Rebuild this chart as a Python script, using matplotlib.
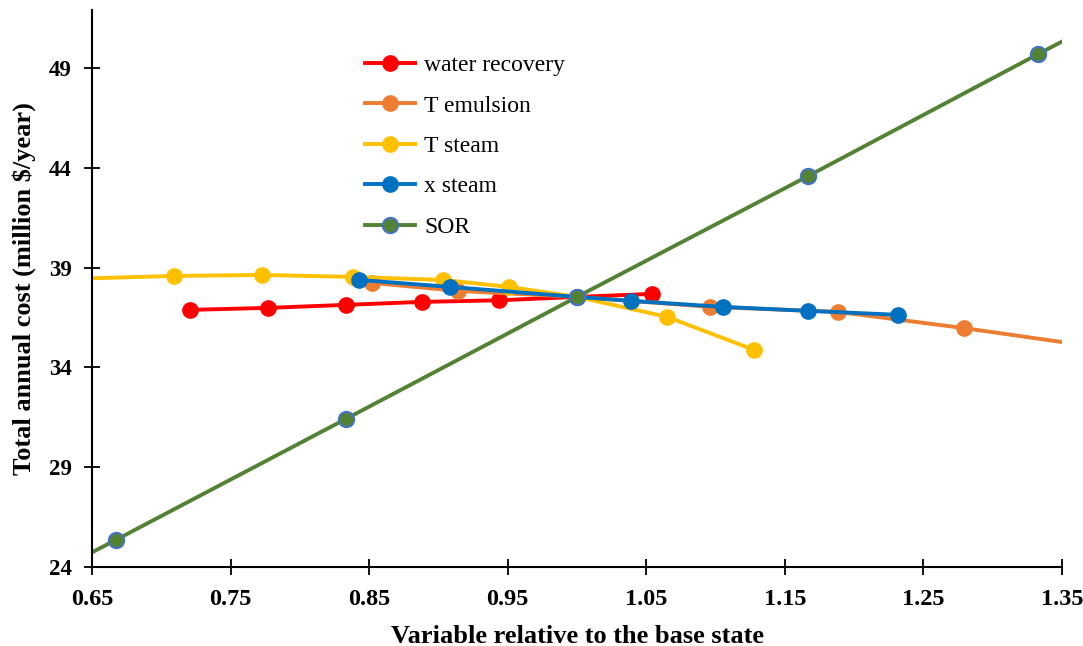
import matplotlib
matplotlib.use("Agg")
from matplotlib import pyplot as plt

# data (x = variable relative to base state, y = million $/year)
water_x = [0.721, 0.777, 0.833, 0.888, 0.944, 1.0, 1.054]
water_y = [36.88, 36.98, 37.13, 37.28, 37.36, 37.53, 37.68]

temul_x = [0.852, 0.914, 1.0, 1.096, 1.188, 1.279, 1.37]
temul_y = [38.23, 37.83, 37.53, 37.03, 36.78, 35.97, 35.07]

tsteam_x = [0.644, 0.709, 0.773, 0.838, 0.903, 0.951, 1.0, 1.065, 1.128]
tsteam_y = [38.45, 38.58, 38.63, 38.53, 38.38, 38.03, 37.53, 36.53, 34.87]

xsteam_x = [0.843, 0.908, 1.0, 1.039, 1.105, 1.167, 1.232]
xsteam_y = [38.38, 38.03, 37.53, 37.33, 37.03, 36.83, 36.63]

sor_x = [0.5, 0.667, 0.833, 1.0, 1.167, 1.333, 1.5]
sor_y = [19.28, 25.35, 31.41, 37.53, 43.59, 49.70, 55.78]

xticks = [0.65, 0.75, 0.85, 0.95, 1.05, 1.15, 1.25, 1.35]
yticks = [24, 29, 34, 39, 44, 49]

plt.rcParams['font.family'] = ['Liberation Serif', 'DejaVu Serif']

fig = plt.figure(figsize=(10.83, 6.46), dpi=100)
ax = fig.add_axes([0.085, 0.1223, 0.8956, 0.8622])

lw = 2.8
ms = 11
ax.plot(water_x, water_y, '-o', color='#FF0000', lw=lw, ms=ms, label='water recovery')
ax.plot(temul_x, temul_y, '-o', color='#ED7D31', lw=lw, ms=ms, label='T emulsion')
ax.plot(tsteam_x, tsteam_y, '-o', color='#FFC000', lw=lw, ms=ms, label='T steam')
ax.plot(xsteam_x, xsteam_y, '-o', color='#0070C0', lw=lw, ms=ms, label='x steam')
ax.plot(sor_x, sor_y, '-o', color='#548235', lw=lw, ms=ms, mec='#4472C4', mew=1.5, label='SOR')

ax.set_xlim(0.65, 1.35)
ax.set_ylim(24, 51.9)
ax.set_xticks(xticks)
ax.set_xticklabels(['%.2f' % v for v in xticks])
ax.set_yticks(yticks)

for s in ['top', 'right']:
    ax.spines[s].set_visible(False)
for s in ['left', 'bottom']:
    ax.spines[s].set_linewidth(1.5)

ax.tick_params(direction='inout', length=11, width=1.3)
ax.tick_params(axis='y', labelsize=16.5, pad=9)
ax.tick_params(axis='x', labelsize=17.5, pad=10)
for lab in ax.get_xticklabels() + ax.get_yticklabels():
    lab.set_fontweight('bold')

ax.set_xlabel('Variable relative to the base state', fontsize=19, fontweight='bold', labelpad=11)
ax.set_ylabel('Total annual cost (million $/year)', fontsize=19, fontweight='bold', labelpad=9)

ax.legend(loc='upper left', bbox_to_anchor=(0.26, 0.958), frameon=False, fontsize=17,
          handlelength=2.1, labelspacing=0.8, handletextpad=0.38)

fig.savefig('out.png', dpi=100)
